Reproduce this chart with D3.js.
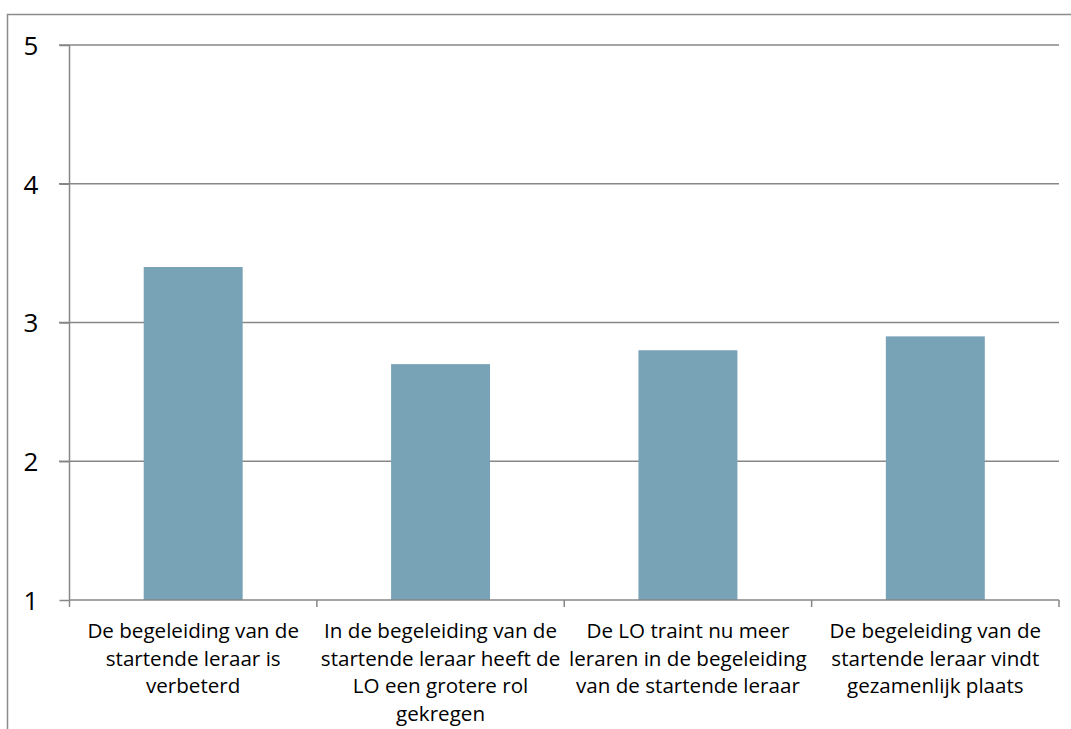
<!DOCTYPE html>
<html><head><meta charset="utf-8">
<script src="https://cdn.jsdelivr.net/npm/d3@7"></script>
<style>body{margin:0;background:#fff}svg{display:block}text{font-family:"Open Sans",sans-serif;fill:#000}</style>
</head><body>
<svg id="c" width="1071" height="729"></svg>
<script>
const categories = ["c1","c2","c3","c4"];
const categoryLabels = [
  ["De begeleiding van de","startende leraar is","verbeterd"],
  ["In de begeleiding van de","startende leraar heeft de","LO een grotere rol","gekregen"],
  ["De LO traint nu meer","leraren in de begeleiding","van de startende leraar"],
  ["De begeleiding van de","startende leraar vindt","gezamenlijk plaats"]
];
const values = [3.4, 2.7, 2.8, 2.9];
const yTicks = [1,2,3,4,5];

const svg = d3.select("#c");
// outer frame
svg.append("rect").attr("x",7.5).attr("y",14.5).attr("width",1100).attr("height",800)
  .attr("fill","none").attr("stroke","#8c8c8c").attr("stroke-width",1.5);

const x = d3.scaleBand().domain(categories).range([69.5,1059]).paddingInner(0.6).paddingOuter(0.3);
const xb = d3.scaleBand().domain(categories).range([69.5,1059]);
const y = d3.scaleLinear().domain([1,5]).range([600,45]);

const grid = "#878787";
// gridlines
svg.append("g").selectAll("line").data(yTicks.slice(1)).join("line")
  .attr("x1",59).attr("x2",1059).attr("y1",d=>y(d)).attr("y2",d=>y(d))
  .attr("stroke",grid).attr("stroke-width",1.5);

// bars
svg.append("g").selectAll("rect").data(values).join("rect")
  .attr("x",(d,i)=>x(categories[i])).attr("width",x.bandwidth())
  .attr("y",d=>y(d)).attr("height",d=>y(1)-y(d)).attr("fill","#78a2b6");

// y axis
const ya = svg.append("g").attr("transform","translate(69.5,0)")
  .call(d3.axisLeft(y).tickValues(yTicks).tickSize(10).tickFormat(d3.format("d")));
ya.select(".domain").attr("stroke",grid).attr("stroke-width",1.5).attr("d","M0,600V45");
ya.selectAll(".tick line").attr("stroke",grid).attr("stroke-width",1.5);
ya.selectAll(".tick text").attr("x",-38.5).attr("text-anchor","middle").style("font-size","26px").attr("dy","0.36em");

// x axis
const xa = svg.append("g").attr("transform","translate(0,600)")
  .call(d3.axisBottom(xb).tickSize(0).tickFormat(""));
xa.select(".domain").attr("stroke",grid).attr("stroke-width",1.5).attr("d","M69.5,0H1059");
xa.selectAll(".tick line").remove();
const bounds = [...categories.map(c=>xb(c)), 1059];
xa.append("g").selectAll("line").data(bounds).join("line")
  .attr("x1",d=>d).attr("x2",d=>d).attr("y1",0).attr("y2",7)
  .attr("stroke",grid).attr("stroke-width",1.5);

const lab = svg.append("g");
categoryLabels.forEach((lines,i)=>{
  const cx = xb(categories[i]) + xb.bandwidth()/2;
  const t = lab.append("text").attr("text-anchor","middle").attr("x",cx).attr("y",638).style("font-size","20.6px");
  lines.forEach((l,j)=>t.append("tspan").attr("x",cx).attr("dy",j?27.5:0).text(l));
});
</script>
</body></html>
